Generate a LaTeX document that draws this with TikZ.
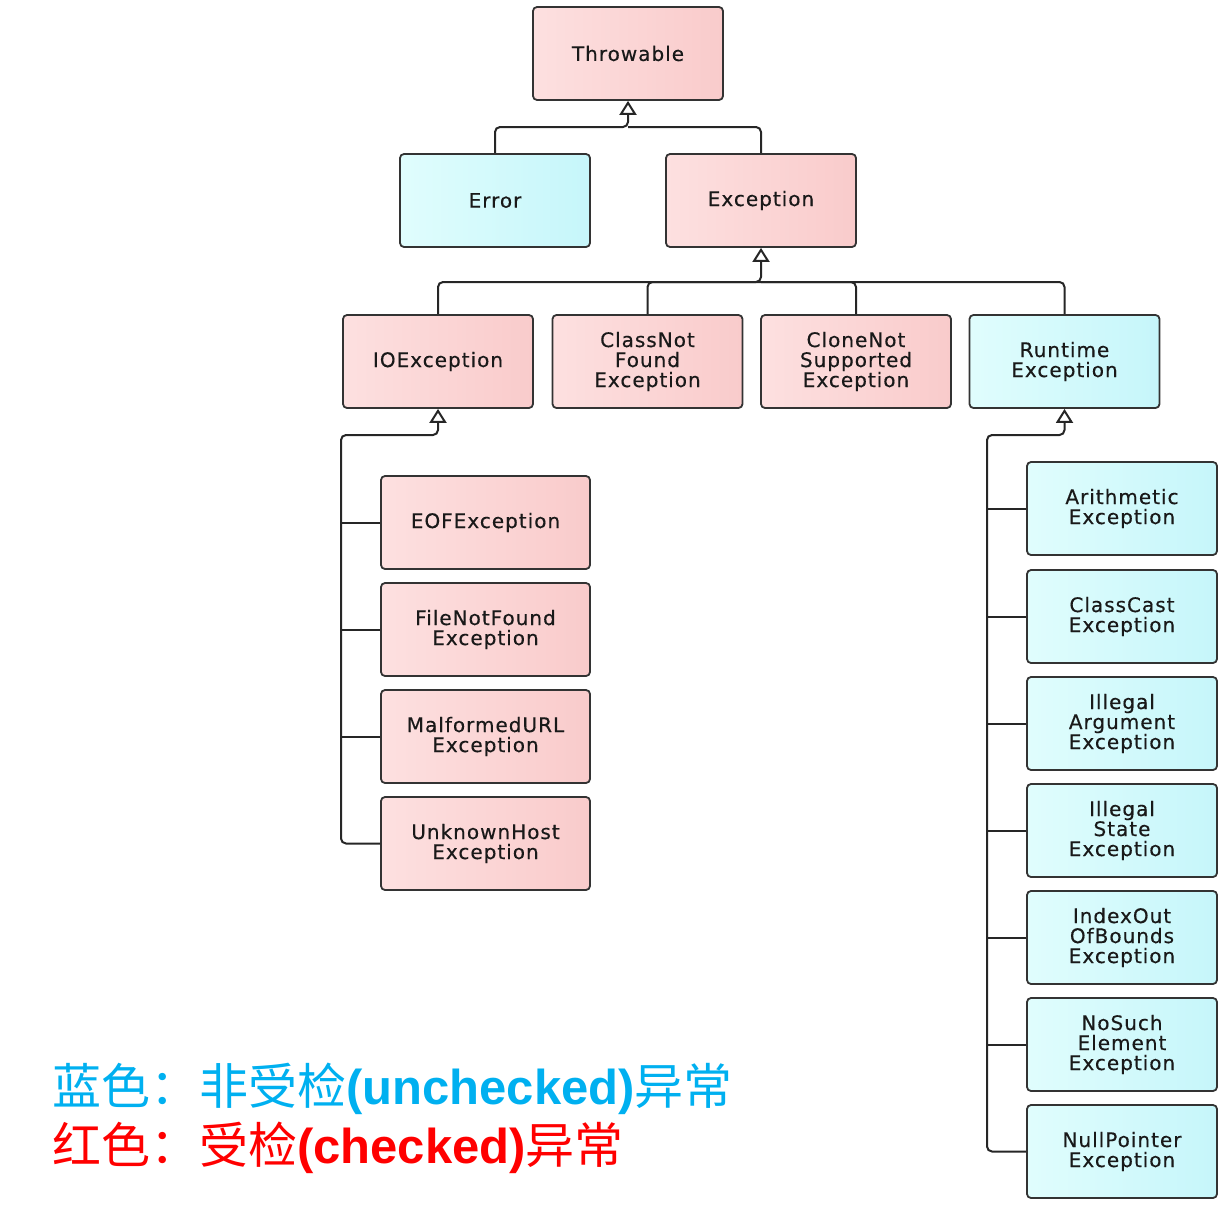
\documentclass[tikz,border=0pt]{standalone}
\usepackage{fontspec}
\usetikzlibrary{arrows.meta}
\newfontfamily\boxfont[LetterSpace=5,FakeBold=0.4]{DejaVu Sans}
\newfontfamily\cjk{Noto Sans CJK SC}
\newfontfamily\latb{Liberation Sans}
\definecolor{pinkL}{HTML}{FDE0E0}
\definecolor{pinkR}{HTML}{F9CBCB}
\definecolor{cyanL}{HTML}{E0FDFD}
\definecolor{cyanR}{HTML}{C6F6FA}
\definecolor{edge}{HTML}{333333}
\definecolor{legblue}{HTML}{00B0F0}
\definecolor{legred}{HTML}{FF0000}
\tikzset{
  box/.style={draw=edge, line width=1.8pt, rounded corners=4pt,
    minimum width=190pt, minimum height=93pt, inner sep=0pt,
    align=center, text=black!90,
    font=\boxfont\fontsize{20}{20}\selectfont},
  chk/.style={box, left color=pinkL, right color=pinkR},
  unchk/.style={box, left color=cyanL, right color=cyanR},
  wide/.style={minimum width=209pt},
  conn/.style={draw=black!85, line width=2pt, rounded corners=5pt},
  inh/.style={conn, -{Triangle[open, width=17pt, length=14pt, line width=2pt]}},
  legend/.style={anchor=base west, inner sep=0pt}
}
\newcommand{\cjkt}[1]{{\cjk\mdseries\fontsize{49}{52}\selectfont #1}}
\newcommand{\latt}[1]{{\latb\bfseries\fontsize{49}{52}\selectfont #1}}
\begin{document}
\begin{tikzpicture}[x=1pt, y=-1pt]
\useasboundingbox (0,0) rectangle (1227,1210);
% top levels
\node[chk]   (thr) at (628,53.5) {Throwable};
\node[unchk] (err) at (495,200.5) {Error};
\node[chk]   (exc) at (761,200.5) {Exception};
\node[chk]   (io)  at (438,361.5) {IOException};
\node[chk]   (cnf) at (647.5,361.5) {ClassNot\\Found\\Exception};
\node[chk]   (cns) at (856,361.5) {CloneNot\\Supported\\Exception};
\node[unchk] (rt)  at (1064.5,361.5) {Runtime\\Exception};
% IOException children
\node[chk,wide] (eof) at (485.5,522.5) {EOFException};
\node[chk,wide] (fnf) at (485.5,629.5) {FileNotFound\\Exception};
\node[chk,wide] (mal) at (485.5,736.5) {MalformedURL\\Exception};
\node[chk,wide] (unk) at (485.5,843.5) {UnknownHost\\Exception};
% RuntimeException children
\node[unchk] (ari) at (1122,508.5) {Arithmetic\\Exception};
\node[unchk] (cce) at (1122,616.5) {ClassCast\\Exception};
\node[unchk] (iae) at (1122,723.5) {Illegal\\Argument\\Exception};
\node[unchk] (ise) at (1122,830.5) {Illegal\\State\\Exception};
\node[unchk] (iob) at (1122,937.5) {IndexOut\\OfBounds\\Exception};
\node[unchk] (nse) at (1122,1044.5) {NoSuch\\Element\\Exception};
\node[unchk] (npe) at (1122,1151.5) {NullPointer\\Exception};
% junctions
\coordinate (j1) at (628,127);
\coordinate (j2) at (761,282);
\coordinate (j3) at (341,435);
\coordinate (j4) at (987,435);
% Throwable
\draw[inh] (err.north) |- (j1) -- (thr.south);
\draw[conn] (exc.north) |- (j1);
% Exception
\draw[inh] (io.north) |- (j2) -- (exc.south);
\draw[conn] (rt.north) |- (j2);
\draw[conn] (cnf.north) |- (j2);
\draw[conn] (cns.north) |- (j2);
% IOException
\draw[inh] (unk.west) -| (j3) -| (io.south);
\foreach \n in {eof,fnf,mal} \draw[conn] (\n.west) -- (\n.west -| j3);
% RuntimeException
\draw[inh] (npe.west) -| (j4) -| (rt.south);
\foreach \n in {ari,cce,iae,ise,iob,nse} \draw[conn] (\n.west) -- (\n.west -| j4);
% legend
\node[legend, text=legblue] (l1) at (52,1104) {\cjkt{蓝色：非受检}\latt{(unchecked)}\cjkt{异常}};
\node[legend, text=legred]  (l2) at (52,1163) {\cjkt{红色：受检}\latt{(checked)}\cjkt{异常}};
\end{tikzpicture}
\end{document}
